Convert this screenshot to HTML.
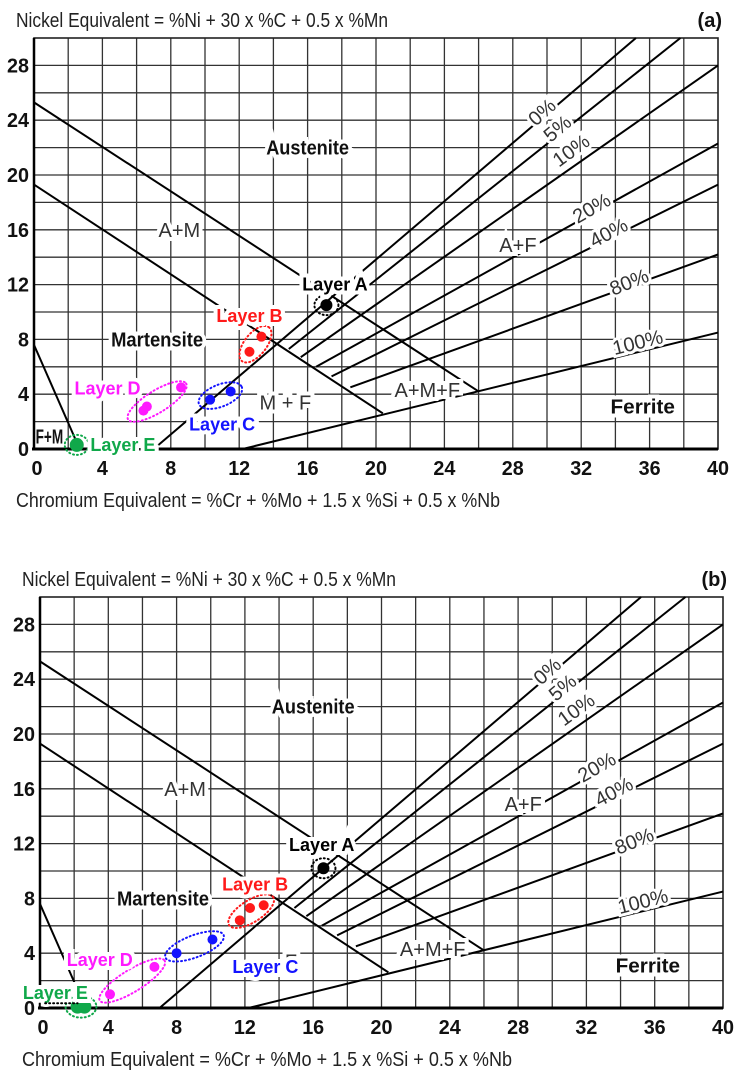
<!DOCTYPE html>
<html><head><meta charset="utf-8"><style>
html,body{margin:0;padding:0;background:#fff;}
svg{display:block;}
text{font-family:"Liberation Sans",sans-serif;}
</style></head><body>
<svg id="fig" width="746" height="1076" viewBox="0 0 746 1076" xmlns="http://www.w3.org/2000/svg"></svg>
<script>
// ---- data ----
const xTicks = [0,4,8,12,16,20,24,28,32,36,40];
const yTicks = [0,4,8,12,16,20,24,28];
// phase boundary lines [x1,y1,x2,y2] in Cr-eq / Ni-eq units
const boundaryNames = ['upper-a-am','lower-m-am','fm-line','ferrite-0pct','ferrite-5pct','ferrite-10pct','ferrite-20pct','ferrite-40pct','ferrite-80pct','ferrite-100pct'];
const boundaryLines = [
  [0,25.3,26,4.2],
  [0,19.3,20.4,2.6],
  [0,7.6,2.6,0.2],
  [7,0,35.2,30],
  [14.9,7.3,37.8,30],
  [15.6,6.7,40,28.0],
  [16.5,6.0,40,22.3],
  [17.4,5.3,40,19.3],
  [18.5,4.5,40,14.2],
  [12.2,0,40,8.5]
];
const pctLabels = ['0%','5%','10%','20%','40%','80%','100%'];
const pctPos = [[29.7,24.6],[30.6,23.4],[31.4,21.8],[32.6,17.6],[33.6,15.8],[34.8,12.2],[35.3,7.8]];
const pctAngle = [-42,-40,-36,-30,-28,-22,-14];
const regionLabels = ['Austenite','A+M','Martensite','M + F','A+M+F','A+F','Ferrite','F+M'];
const regionPos = [[16,22],[8.5,16],[7.2,8],[14.7,3.4],[23,4.3],[28.3,14.9],[35.6,3.1],[0.9,0.9]];
const regionBold = [1,0,1,0,0,0,1,1];
// layers for panel (a)
const layerNames = ['Layer A','Layer B','Layer C','Layer D','Layer E'];
const layerColors = ['#000000','#ff1a1a','#1414ff','#ff1aff','#10a84a'];
const layerPtsA = [
  [[17.1,10.5]],
  [[12.6,7.1],[13.3,8.2]],
  [[10.3,3.6],[11.5,4.2]],
  [[6.4,2.8],[6.6,3.1],[8.6,4.5]],
  [[2.5,0.3]]
];
const layerLabelA = [[17.6,12],[12.6,9.7],[11.0,1.8],[4.3,4.4],[5.2,0.3]];
// layers for panel (b)
const layerPtsB = [
  [[16.6,10.2]],
  [[11.7,6.4],[12.3,7.3],[13.1,7.5]],
  [[8.0,4.0],[10.1,5.0]],
  [[4.1,1.0],[6.7,3.0]],
  [[2.2,0.1],[2.6,0.1]]
];
const layerLabelB = [[16.5,11.9],[12.6,9.0],[13.2,3.0],[3.5,3.5],[0.9,1.1]];

const NS='http://www.w3.org/2000/svg';
const svg=document.getElementById('fig');
function mk(tag,attrs,parent){const e=document.createElementNS(NS,tag);for(const k in attrs)e.setAttribute(k,attrs[k]);(parent||svg).appendChild(e);return e;}

function panel(cfg){
  const g=mk('g',{});
  
  
  const X=v=>cfg.left+(v/40)*(cfg.right-cfg.left);
  const Y=v=>cfg.bottom-(v/30)*(cfg.bottom-cfg.top);
  const grid=mk('g',{stroke:'#333',"stroke-width":1.3},g);
  
  
  for(let v=2;v<40;v+=2){mk('line',{x1:X(v),x2:X(v),y1:Y(30),y2:Y(0)},grid);}
  for(let v=2;v<30;v+=2){mk('line',{x1:X(0),x2:X(40),y1:Y(v),y2:Y(v)},grid);}
  const frame=mk('rect',{x:X(0),y:Y(30),width:X(40)-X(0),height:Y(0)-Y(30),fill:'none',stroke:'#222','stroke-width':1.6},g);
  
  
  const xa=mk('line',{x1:X(0)-2,x2:X(40),y1:Y(0),y2:Y(0),stroke:'#000','stroke-width':3},g);
  
  
  const ya=mk('line',{x1:X(0),x2:X(0),y1:Y(30),y2:Y(0),stroke:'#000','stroke-width':2.5},g);
  
  
  boundaryLines.forEach((b,i)=>{
    const l=mk('line',{x1:X(b[0]),y1:Y(b[1]),x2:X(b[2]),y2:Y(b[3]),stroke:'#000','stroke-width':2},g);
    
    
  });
  regionLabels.forEach((t,i)=>{
    if(cfg.skipRegion.includes(i))return;
    const txt=(cfg.regionOverride[i]!==undefined)?cfg.regionOverride[i]:t;
    const e=mk('text',{x:X(regionPos[i][0]),y:Y(regionPos[i][1])+7,'text-anchor':'middle','font-size':regionBold[i]?20:20,'font-weight':regionBold[i]?'bold':'normal',fill:regionBold[i]?'#111':'#333',stroke:'#fff','stroke-width':i===7?3:8,'paint-order':'stroke'},g);
    e.textContent=txt;
    if(regionBold[i]){
      e.setAttribute('textLength',9.2*txt.length);
      e.setAttribute('lengthAdjust','spacingAndGlyphs');
    }
    
    
  });
  pctLabels.forEach((t,i)=>{
    const x=X(pctPos[i][0]),y=Y(pctPos[i][1]);
    const e=mk('text',{x:x,y:y+7,'text-anchor':'middle','font-size':20,fill:'#333',stroke:'#fff','stroke-width':6,'paint-order':'stroke',transform:`rotate(${pctAngle[i]} ${x} ${y})`},g);
    e.textContent=t;
    
    
  });
  cfg.pts.forEach((pts,i)=>{
    const lg=mk('g',{},g);
    
    
    const px=pts.map(p=>[X(p[0]),Y(p[1])]);
    const cx=px.reduce((s,p)=>s+p[0],0)/px.length, cy=px.reduce((s,p)=>s+p[1],0)/px.length;
    const a=px[0],b=px[px.length-1];
    const d=Math.hypot(b[0]-a[0],b[1]-a[1]);
    const ang=d>0?Math.atan2(b[1]-a[1],b[0]-a[0])*180/Math.PI:0;
    const ell=mk('ellipse',{cx:cx,cy:cy,rx:d/2+12,ry:d>0?11:10,fill:'none',stroke:layerColors[i],'stroke-width':2,'stroke-dasharray':'1 3','stroke-linecap':'round',transform:`rotate(${ang} ${cx} ${cy})`},lg);
    
    
    px.forEach(p=>{
      const c=mk('circle',{cx:p[0],cy:p[1],r:i===0?6:i===4?7:5,fill:layerColors[i]},lg);
      
      
    });
    const lp=cfg.labels[i];
    const t=mk('text',{x:X(lp[0]),y:Y(lp[1])+6,'text-anchor':'middle','font-size':18,'font-weight':'bold',fill:layerColors[i],stroke:'#fff','stroke-width':8,'paint-order':'stroke','font-family':'"Liberation Sans","NanumGothic",sans-serif'},lg);
    t.textContent=layerNames[i];
    
    
  });
  if(cfg.eDots){
    const l=mk('line',{x1:X(0.3),y1:Y(0.35),x2:X(2.2),y2:Y(0.35),stroke:'#000','stroke-width':2,'stroke-dasharray':'1 3','stroke-linecap':'round'},g);
    
    
  }
  xTicks.forEach(v=>{
    const t=mk('text',{x:X(v)+(v===0?3:0),y:cfg.bottom+26,'text-anchor':'middle','font-size':20,'font-weight':'bold',fill:'#111'},g);
    t.textContent=v;
    t.setAttribute('textLength',v>=10?22:11);
    t.setAttribute('lengthAdjust','spacingAndGlyphs');
    
    
  });
  yTicks.forEach(v=>{
    const t=mk('text',{x:X(0)-5,y:Y(v)+7,'text-anchor':'end','font-size':20,'font-weight':'bold',fill:'#111'},g);
    t.textContent=v;
    t.setAttribute('textLength',v>=10?22:11);
    t.setAttribute('lengthAdjust','spacingAndGlyphs');
    
    
  });
  const yt=mk('text',{x:cfg.left-18,y:cfg.top-11,'font-size':20,fill:'#222',textLength:cfg.nW,lengthAdjust:'spacingAndGlyphs'},g);
  yt.textContent='Nickel Equivalent = %Ni + 30 x %C + 0.5 x %Mn';
  
  
  const xt=mk('text',{x:cfg.left-18,y:cfg.bottom+58,'font-size':20,fill:'#222',textLength:cfg.cW,lengthAdjust:'spacingAndGlyphs'},g);
  xt.textContent='Chromium   Equivalent = %Cr + %Mo + 1.5 x %Si + 0.5 x %Nb';
  
  
  const pl=mk('text',{x:cfg.right+4,y:cfg.top-11,'text-anchor':'end','font-size':20,'font-weight':'bold',fill:'#111'},g);
  pl.textContent=cfg.tag;
  
  
}

panel({name:'panel-a',left:34,right:718,top:38,bottom:449,pts:layerPtsA,labels:layerLabelA,skipRegion:[],regionOverride:{},nW:372,cW:484,tag:'(a)',eDots:false});
panel({name:'panel-b',left:40,right:723,top:597,bottom:1008,pts:layerPtsB,labels:layerLabelB,skipRegion:[7],regionOverride:{3:'F'},nW:374,cW:490,tag:'(b)',eDots:true});
</script>
</body></html>
